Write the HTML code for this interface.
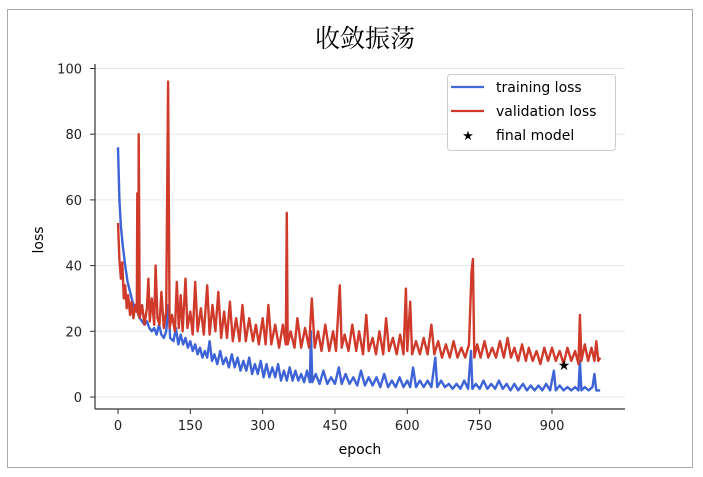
<!DOCTYPE html>
<html><head><meta charset="utf-8"><style>
body{margin:0;background:#fff;}
svg text{font-family:"DejaVu Sans","Liberation Sans",sans-serif;}
</style></head><body>
<svg id="chart" width="703" height="472" xmlns="http://www.w3.org/2000/svg">
<rect x="7.5" y="9.5" width="685" height="458" fill="#fff" stroke="#aaa"/>
<text x="365" y="47" font-size="25" text-anchor="middle" style="font-family:'Noto Serif CJK SC','Liberation Serif',serif">收敛振荡</text>
<g id="grid"></g><g id="series"></g><g id="axes"></g>
<text x="0" y="0" font-size="14" text-anchor="middle" transform="translate(43,240) rotate(-90)">loss</text>
<text x="360" y="454" font-size="14" text-anchor="middle">epoch</text>
<g>
<rect x="447.5" y="74.5" width="168" height="76" rx="3" fill="#fff" stroke="#ccc"/>
<line x1="451" y1="87" x2="484" y2="87" stroke="#4169d8" stroke-width="2.2"/>
<text x="496" y="92" font-size="14">training loss</text>
<line x1="451" y1="111" x2="484" y2="111" stroke="#cf3a2b" stroke-width="2.2"/>
<text x="496" y="116" font-size="14">validation loss</text>
<text x="468" y="140" font-size="13" text-anchor="middle">★</text>
<text x="496" y="140" font-size="14">final model</text>
</g>
</svg>
<script>
const xTicks=[0,150,300,450,600,750,900];
const yTicks=[0,20,40,60,80,100];
const trainEpochs=[0,3,6,10,15,20,25,30,35,40,45,50,55,60,65,70,75,80,85,90,95,100,105,108,115,120,125,130,135,140,145,150,155,160,165,170,175,180,185,190,195,200,206,212,218,224,230,236,242,248,254,260,266,272,278,284,290,296,302,308,314,320,326,332,338,344,350,356,362,368,374,380,386,392,398,400,403,410,418,426,434,442,450,458,464,472,480,488,496,504,512,520,528,536,544,552,560,568,576,584,592,600,606,612,618,626,634,642,650,658,662,670,678,686,694,702,710,718,726,732,735,742,750,758,766,774,782,790,798,806,814,822,830,840,848,856,864,872,880,888,896,904,908,916,924,932,940,948,955,958,961,968,976,984,988,992,1000];
const trainLoss=[76,60,52,46,40,35,32,29,27,26,24,23,22,23,21,20,21,19,22,19,18,20,28,18,17,21,16,19,16,18,15,17,14,16,13,15,12,14,12,17,11,13,10,14,10,12,9,13,9,12,8,11,8,12,7,10,7,11,6,10,6,9,6,10,5,8,5,9,5,8,5,7,4.5,8,4.5,20,4.5,7,4,8,4,6,4,9,4,7,4,6,3.5,8,3.5,6,3.5,6,3,7,3,5,3,6,3,5,3,9,3,5,3,5,3,12,3,5,3,4,2.5,4,2.5,5,2.5,14,2.5,4,2.5,5,2.5,4,2.5,5,2.5,4,2,4,2,4,2,3.5,2,3.5,2,4,2,8,2,3.5,2,3,2,3,2,11,2,3,2,3,7,2,2];
const valEpochs=[0,3,6,9,12,15,18,21,25,28,32,36,39,40,42,43,45,50,55,60,63,66,70,75,78,82,86,90,95,100,104,107,112,118,122,126,130,134,140,144,150,155,160,165,172,178,185,190,196,202,208,214,220,226,232,238,245,252,258,265,272,280,286,292,300,306,312,318,326,334,342,348,350,352,358,366,372,380,388,396,402,408,415,422,430,438,446,452,460,464,470,478,486,494,500,508,515,520,528,535,542,550,556,562,570,578,585,592,597,600,606,610,618,626,634,642,650,656,664,672,680,688,696,704,712,720,728,733,736,739,745,752,760,768,776,784,792,800,808,815,822,830,838,846,852,860,868,876,884,892,900,908,916,924,932,940,948,955,958,961,968,975,982,988,992,996,1000];
const valLoss=[53,42,36,41,30,34,27,31,25,29,24,28,26,62,25,80,24,28,22,27,36,23,30,22,40,24,22,32,21,26,96,21,25,20,35,21,31,20,36,21,26,19,35,20,27,19,34,19,28,20,32,18,26,18,29,17,24,17,28,17,24,17,22,16,24,16,28,16,22,15,22,16,56,16,20,15,24,15,21,15,30,15,20,14,22,14,20,14,34,15,19,14,22,14,20,13,25,14,18,13,20,13,24,14,18,13,19,13,33,14,29,13,17,13,18,13,22,13,17,12,16,12,17,12,15,12,16,38,42,12,16,12,17,12,15,12,17,12,18,12,15,11,16,11,15,11,14,10,15,11,15,11,14,10,15,11,14,10,25,11,16,11,15,11,17,11,12];
const finalEpoch=[925];
const finalLoss=[9.7];

const NS="http://www.w3.org/2000/svg";
const X0=118,XS=0.4822,Y0=397,YS=3.285;
const xs=e=>X0+e*XS, ys=v=>Y0-v*YS;
function mk(tag,attrs,parent){const el=document.createElementNS(NS,tag);for(const k in attrs)el.setAttribute(k,attrs[k]);parent.appendChild(el);return el;}
const grid=document.getElementById('grid'),axes=document.getElementById('axes'),series=document.getElementById('series');
yTicks.forEach(v=>{
  const g=mk('line',{x1:95,x2:625,y1:ys(v),y2:ys(v),stroke:'#e6e6e6','stroke-width':1},grid);
  
  
  const t=mk('line',{x1:90,x2:95,y1:ys(v),y2:ys(v),stroke:'#333'},axes);
  
  
  const l=mk('text',{x:82,y:ys(v)+5,'font-size':13,'text-anchor':'end',fill:'#222'},axes);
  l.textContent=v;
  
  
});
xTicks.forEach(v=>{
  const t=mk('line',{x1:xs(v),x2:xs(v),y1:409,y2:414,stroke:'#333'},axes);
  
  
  const l=mk('text',{x:xs(v),y:430,'font-size':13,'text-anchor':'middle',fill:'#222'},axes);
  l.textContent=v;
  
  
});
const ls=mk('line',{x1:95,x2:95,y1:64,y2:409,stroke:'#333','stroke-width':1.2},axes);


const bs=mk('line',{x1:95,x2:625,y1:409,y2:409,stroke:'#333','stroke-width':1.2},axes);


function path(ex,vals){return ex.map((e,i)=>(i?'L':'M')+xs(e).toFixed(1)+','+ys(vals[i]).toFixed(1)).join('');}
const tp=mk('path',{d:path(trainEpochs,trainLoss),fill:'none',stroke:'#3d63d6','stroke-width':2.4,'stroke-linejoin':'round'},series);


const vp=mk('path',{d:path(valEpochs,valLoss),fill:'none',stroke:'#cf3a2b','stroke-width':2.4,'stroke-linejoin':'round'},series);


finalEpoch.forEach((e,i)=>{
  const s=mk('text',{x:xs(e),y:ys(finalLoss[i])+5,'font-size':14,'text-anchor':'middle',fill:'#000'},series);
  s.textContent='★';
  
  
});
</script>
</body></html>
